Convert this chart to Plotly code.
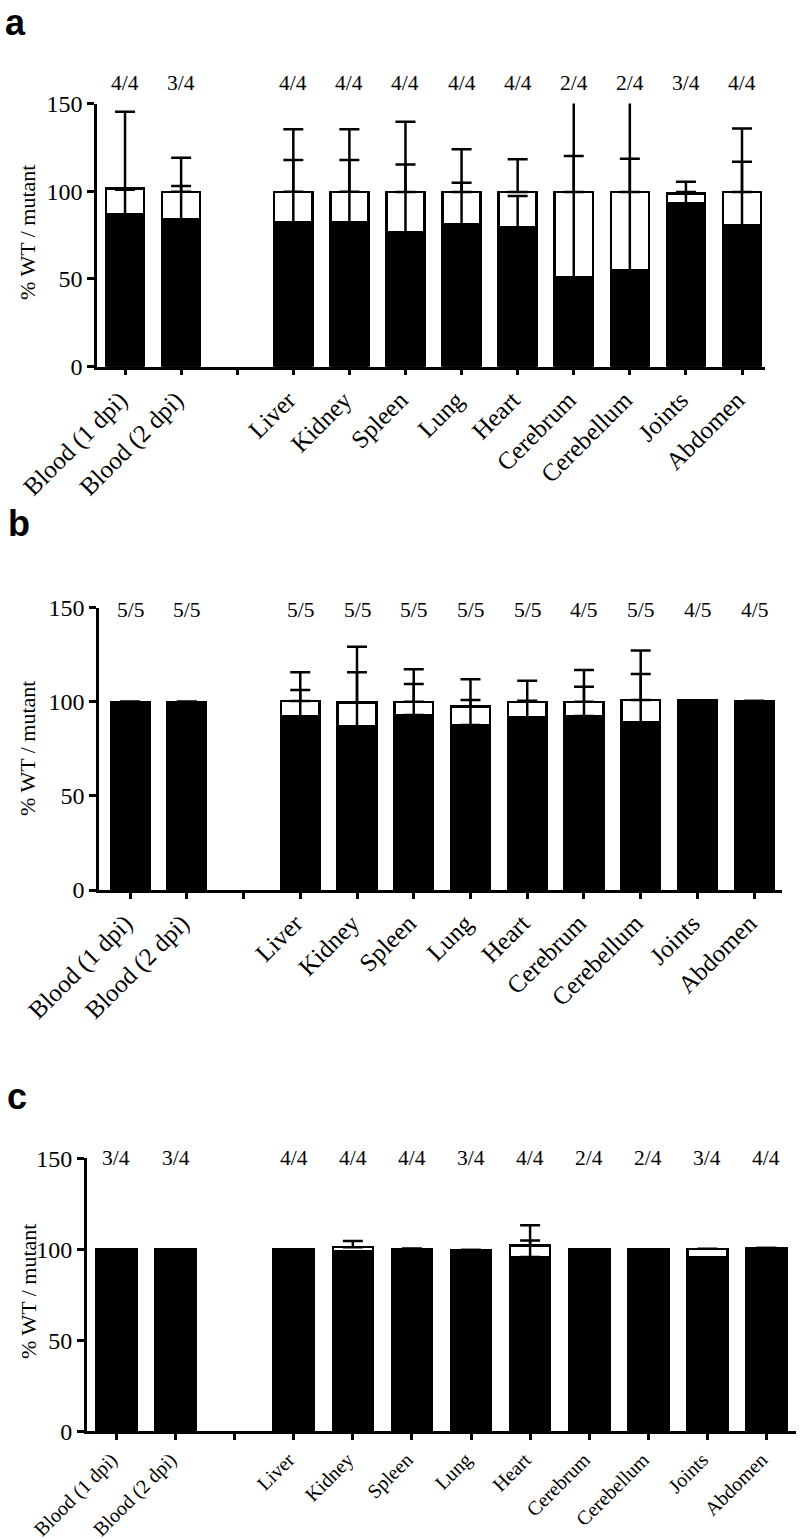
import plotly.graph_objects as go

categories = ["Blood (1 dpi)", "Blood (2 dpi)", "", "Liver", "Kidney", "Spleen",
              "Lung", "Heart", "Cerebrum", "Cerebellum", "Joints", "Abdomen"]

# Panel a
a_wt = [86.8, 84.0, None, 82.3, 82.3, 76.4, 81.1, 79.2, 50.9, 54.7, 93.1, 80.4]
a_mut = [14.8, 15.7, None, 17.4, 17.4, 23.2, 18.5, 20.4, 48.7, 44.9, 5.7, 19.2]
a_wt_sd = [14.0, 19.0, None, 35.5, 35.5, 38.9, 23.7, 18.1, 69.2, 63.8, 6.5, 36.4]
a_mut_sd = [43.7, 19.4, None, 35.6, 35.6, 40.0, 24.3, 18.6, 69.0, 64.0, 6.6, 36.2]
a_n = ["4/4", "3/4", "", "4/4", "4/4", "4/4", "4/4", "4/4", "2/4", "2/4", "3/4", "4/4"]

# Panel b
b_wt = [100.0, 100.0, None, 92.1, 87.0, 93.0, 87.7, 91.6, 92.5, 88.9, 100.6, 100.4]
b_mut = [0.0, 0.0, None, 8.3, 12.7, 7.0, 9.7, 8.4, 7.5, 12.1, 0.0, 0.0]
b_wt_sd = [None, None, None, 14.2, 28.7, 16.5, 13.3, 9.0, 15.5, 25.9, None, None]
b_mut_sd = [None, None, None, 15.3, 29.6, 17.3, 14.6, 11.2, 16.9, 26.2, None, None]
b_n = ["5/5", "5/5", "", "5/5", "5/5", "5/5", "5/5", "5/5", "4/5", "5/5", "4/5", "4/5"]

# Panel c
c_wt = [100.0, 100.0, None, 100.0, 99.0, 100.3, 99.6, 95.8, 100.0, 100.0, 95.4, 100.8]
c_mut = [0.0, 0.0, None, 0.0, 2.2, 0.0, 0.0, 6.4, 0.0, 0.0, 4.9, 0.0]
c_wt_sd = [None, None, None, None, None, None, None, 9.1, None, None, None, None]
c_mut_sd = [None, None, None, None, 3.4, None, None, 11.0, None, None, None, None]
c_n = ["3/4", "3/4", "", "4/4", "4/4", "4/4", "3/4", "4/4", "2/4", "2/4", "3/4", "4/4"]

y_ticks = [0, 50, 100, 150]
y_title = "% WT / mutant"
panel_letters = ["a", "b", "c"]

W, H = 800, 1539
SERIF = "Liberation Serif, Times New Roman, serif"

# layout geometry (pixels): x left, x right, y top(150), y bottom(0), x range
panels = [
    dict(wt=a_wt, mut=a_mut, wsd=a_wt_sd, msd=a_mut_sd, n=a_n,
         xl=97, xr=765, yt=103.5, yb=366.7, xrange=[-0.5, 11.41], ny=83.3,
         lx=3, ly=0, lanchor="top", ty=233, xfs=25),
    dict(wt=b_wt, mut=b_mut, wsd=b_wt_sd, msd=b_mut_sd, n=b_n,
         xl=99, xr=782, yt=607.7, yb=890, xrange=[-0.547, 11.49], ny=610,
         lx=6, ly=546, lanchor="bottom", ty=749, xfs=25),
    dict(wt=c_wt, mut=c_mut, wsd=c_wt_sd, msd=c_mut_sd, n=c_n,
         xl=86.7, xr=796, yt=1158.3, yb=1431.4, xrange=[-0.504, 11.5], ny=1158,
         lx=5, ly=1119, lanchor="bottom", ty=1292, xfs=20),
]

fig = go.Figure()
annotations = []
idx = list(range(len(categories)))

for k, p in enumerate(panels):
    xa = "x" if k == 0 else f"x{k+1}"
    ya = "y" if k == 0 else f"y{k+1}"
    total = [None if (w is None) else w + m for w, m in zip(p["wt"], p["mut"])]
    fig.add_trace(go.Bar(x=idx, y=p["wt"], xaxis=xa, yaxis=ya, width=0.68,
                         marker=dict(color="black", line=dict(color="black", width=2.5)),
                         showlegend=False, hoverinfo="skip"))
    fig.add_trace(go.Bar(x=idx, y=p["mut"], xaxis=xa, yaxis=ya, width=0.68,
                         marker=dict(color="white", line=dict(color="black", width=2.5)),
                         showlegend=False, hoverinfo="skip"))
    for yy, sd in ((p["wt"], p["wsd"]), (total, p["msd"])):
        fig.add_trace(go.Scatter(x=idx, y=yy, xaxis=xa, yaxis=ya, mode="markers",
                                 marker=dict(size=1, color="black", opacity=0),
                                 cliponaxis=True,
                                 error_y=dict(type="data", array=sd, symmetric=False,
                                              arrayminus=[0] * len(idx), color="black",
                                              thickness=2.5, width=10),
                                 showlegend=False, hoverinfo="skip"))

    xdom = [p["xl"] / W, p["xr"] / W]
    ydom = [1 - p["yb"] / H, 1 - p["yt"] / H]
    xkey = "xaxis" if k == 0 else f"xaxis{k+1}"
    ykey = "yaxis" if k == 0 else f"yaxis{k+1}"
    fig.update_layout(**{
        xkey: dict(domain=xdom, range=p["xrange"], anchor=ya, tickmode="array",
                   tickvals=idx, ticktext=categories, tickangle=-45, automargin=False,
                   ticklabelshift=-5,
                   ticks="outside", ticklen=6, tickwidth=2.5, tickcolor="black",
                   showline=True, linecolor="black", linewidth=2.5,
                   showgrid=False, zeroline=False,
                   tickfont=dict(family=SERIF, size=p["xfs"], color="black")),
        ykey: dict(domain=ydom, range=[0, 150], anchor=xa, tickmode="array",
                   tickvals=y_ticks, ticks="outside", ticklen=7, tickwidth=2.5,
                   automargin=False,
                   tickcolor="black", showline=True, linecolor="black", linewidth=2.5,
                   showgrid=False, zeroline=False,
                   tickfont=dict(family=SERIF, size=24, color="black")),
    })
    for i, lab in enumerate(p["n"]):
        if lab:
            annotations.append(dict(x=i, xref=xa, y=1 - p["ny"] / H, yref="paper",
                                    text=lab, showarrow=False, yanchor="middle",
                                    font=dict(family=SERIF, size=21.5, color="black")))
    annotations.append(dict(x=28 / W, xref="paper", y=1 - p["ty"] / H, yref="paper",
                            text=y_title, textangle=-90, showarrow=False,
                            xanchor="center", yanchor="middle",
                            font=dict(family=SERIF, size=22, color="black")))
    annotations.append(dict(x=p["lx"] / W, xref="paper", y=1 - p["ly"] / H, yref="paper",
                            text="<b>%s</b>" % panel_letters[k], showarrow=False,
                            xanchor="left", yanchor=p["lanchor"],
                            font=dict(family="Liberation Sans, Arial, sans-serif",
                                      size=36, color="black")))

fig.update_layout(template="none", width=W, height=H,
                  margin=dict(l=0, r=0, t=0, b=0, pad=0, autoexpand=False),
                  paper_bgcolor="white", plot_bgcolor="white",
                  barmode="stack", showlegend=False, annotations=annotations)

fig.write_html("out.html", config={"displayModeBar": False},
               post_script="document.body.style.margin='0px';")
